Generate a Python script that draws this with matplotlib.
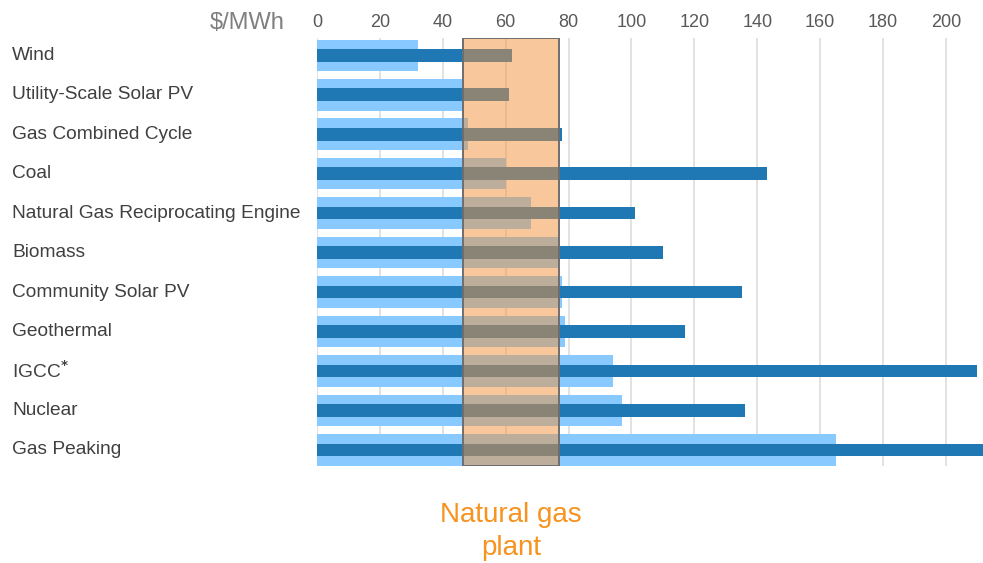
import matplotlib
matplotlib.use("Agg")
import matplotlib.pyplot as plt
from matplotlib.patches import Rectangle
from matplotlib.transforms import blended_transform_factory

plt.rcParams["font.family"] = ["Liberation Sans", "DejaVu Sans"]

# Levelized cost ranges, $/MWh
technologies = [
    "Wind",
    "Utility-Scale Solar PV",
    "Gas Combined Cycle",
    "Coal",
    "Natural Gas Reciprocating Engine",
    "Biomass",
    "Community Solar PV",
    "Geothermal",
    "IGCC$^{\\mathbf{*}}$",
    "Nuclear",
    "Gas Peaking",
]
cost_low = [32, 46, 48, 60, 68, 77, 78, 79, 94, 97, 165]
cost_high = [62, 61, 78, 143, 101, 110, 135, 117, 210, 136, 218]
gas_range = (46.5, 77)
ticks = list(range(0, 201, 20))

W, H = 983, 563
fig = plt.figure(figsize=(W / 100, H / 100), dpi=100)
ax = fig.add_axes([317 / W, 1 - 466 / H, 666 / W, (466 - 38) / H])

y_top, y_bot = -0.44, 10.41
y = list(range(len(technologies)))
ax.barh(y, cost_low, height=0.8, color="#88CAFF", zorder=2)
ax.barh(y, cost_high, height=0.32, color="#1F77B4", zorder=3)

# shaded band for the natural gas plant cost range
width = gas_range[1] - gas_range[0]
ax.add_patch(Rectangle((gas_range[0], y_top), width, y_bot - y_top,
                       facecolor="#F39139", alpha=0.5, edgecolor="none", zorder=4))
ax.add_patch(Rectangle((gas_range[0], y_top), width, y_bot - y_top,
                       facecolor="none", edgecolor="#6E6E6E", linewidth=1.4, zorder=5))

ax.set_xlim(0, 211.8)
ax.set_ylim(y_bot, y_top)
ax.set_xticks(ticks)
ax.xaxis.tick_top()
ax.tick_params(axis="x", length=0, pad=5, labelsize=13, labelcolor="#595959")
ax.set_yticks([])
ax.grid(axis="x", color="#DDDDDD", linewidth=1.2, zorder=0)
ax.set_axisbelow(True)
for s in ax.spines.values():
    s.set_visible(False)

trans = blended_transform_factory(fig.transFigure, ax.transData)
for i, name in enumerate(technologies):
    ax.text(12 / W, i, name, transform=trans, ha="left", va="center",
            fontsize=13.8, color="#404040")

fig.text(210 / W, 1 - 23 / H, "$/MWh", ha="left", va="center",
         fontsize=17, color="#7F7F7F")

# caption under the band
xc = ax.transData.transform((sum(gas_range) / 2, 0))[0] / W
fig.text(xc, 1 - 515 / H, "Natural gas", ha="center", va="center",
         fontsize=20, color="#F7931E")
fig.text(xc, 1 - 548 / H, "plant", ha="center", va="center",
         fontsize=20, color="#F7931E")

fig.savefig("out.png", dpi=100)
